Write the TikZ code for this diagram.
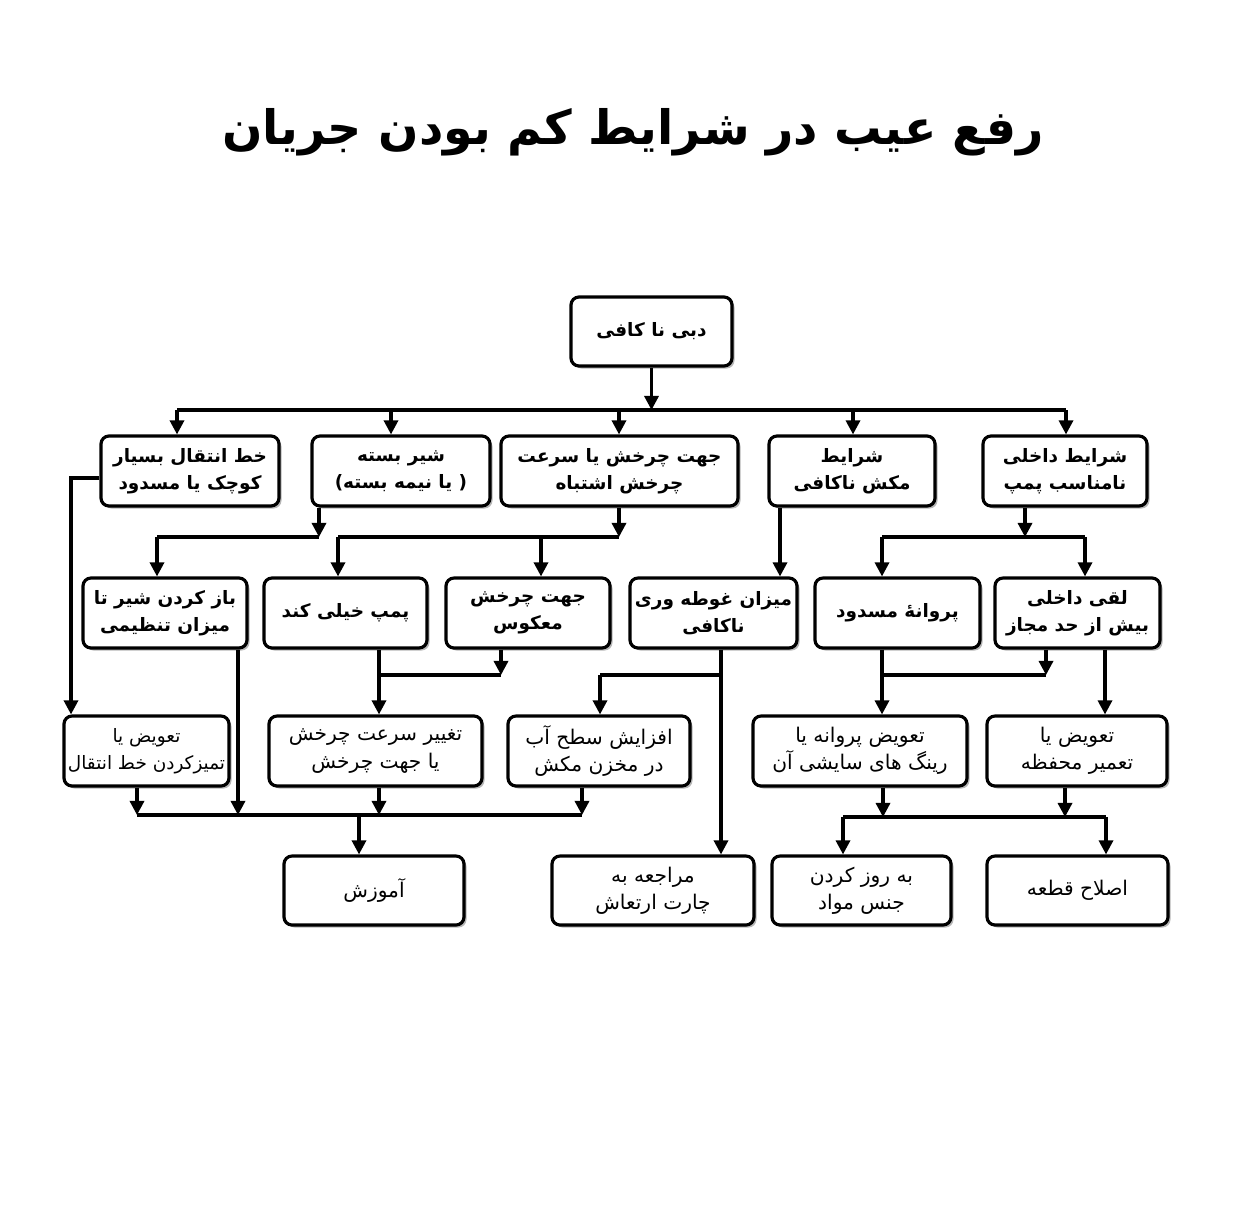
\documentclass[tikz,border=0pt]{standalone}
\usepackage{fontspec}
\newfontfamily\arabicfont[Script=Arabic]{DejaVu Sans}
\newfontfamily\latinfont{DejaVu Sans}
\TeXXeTstate=1
\usetikzlibrary{arrows.meta,shadows}
\newcommand\RL[1]{\beginR #1\endR}
\begin{document}
\begin{tikzpicture}[x=0.2mm,y=-0.2mm,
  sz/.style 2 args={minimum width=#1*0.2mm, minimum height=#2*0.2mm},
  box/.style={draw, line width=1.8pt, rounded corners=1.6mm, fill=white,
    drop shadow={shadow xshift=0.5mm, shadow yshift=-0.5mm, fill=black!40, opacity=0.7},
    align=center, inner sep=0pt,
    font=\arabicfont\bfseries\fontsize{10.5}{15.5}\selectfont},
  lbox/.style={box, font=\arabicfont\fontsize{11.5}{15.5}\selectfont},
  ln/.style={line width=1.8pt},
  arr/.style={ln, -{Triangle[width=8pt,length=8pt]}}]
\fill[white] (0,0) rectangle (1240,1228);
\useasboundingbox (0,0) rectangle (1240,1228);

\node (title) at (633,132) {\arabicfont\bfseries\fontsize{27}{32}\selectfont\RL{رفع عیب در شرایط کم بودن جریان}};

\node[box, sz={161}{69}] (top) at (651.5,331.5) {\RL{دبی نا کافی}};

\node[box, sz={178}{70}] (A1) at (190,471) {\RL{خط انتقال بسیار}\\\RL{کوچک یا مسدود}};
\node[box, sz={178}{70}] (A2) at (401,471) {\RL{شیر بسته}\\{\latinfont\bfseries(}\RL{یا نیمه بسته}~{\latinfont\bfseries)}};
\node[box, sz={237}{70}] (A3) at (619.5,471) {\RL{جهت چرخش یا سرعت}\\\RL{چرخش اشتباه}};
\node[box, sz={166}{70}] (A4) at (852,471) {\RL{شرایط}\\\RL{مکش ناکافی}};
\node[box, sz={164}{70}] (A5) at (1065,471) {\RL{شرایط داخلی}\\\RL{نامناسب پمپ}};

\node[box, sz={164}{70}] (B1) at (165,613) {\RL{باز کردن شیر تا}\\\RL{میزان تنظیمی}};
\node[box, sz={163}{70}] (B2) at (345.5,613) {\RL{پمپ خیلی کند}};
\node[box, sz={164}{70}] (B3) at (528,613) {\RL{جهت چرخش}\\\RL{معکوس}};
\node[box, sz={167}{70}] (B4) at (713.5,613) {\RL{میزان غوطه وری}\\\RL{ناکافی}};
\node[box, sz={165}{70}] (B5) at (897.5,613) {\RL{پروانهٔ مسدود}};
\node[box, sz={165}{70}] (B6) at (1077.5,613) {\RL{لقی داخلی}\\\RL{بیش از حد مجاز}};

\node[lbox, sz={165}{70}, font=\arabicfont\fontsize{10.5}{15.5}\selectfont] (C1) at (146.5,751) {\RL{تعویض یا}\\\RL{تمیزکردن خط انتقال}};
\node[lbox, sz={213}{70}] (C2) at (375.5,751) {\RL{تغییر سرعت چرخش}\\\RL{یا جهت چرخش}};
\node[lbox, sz={182}{70}] (C3) at (599,751) {\RL{افزایش سطح آب}\\\RL{در مخزن مکش}};
\node[lbox, sz={214}{70}] (C4) at (860,751) {\RL{تعویض پروانه یا}\\\RL{رینگ های سایشی آن}};
\node[lbox, sz={180}{70}] (C5) at (1077,751) {\RL{تعویض یا}\\\RL{تعمیر محفظه}};

\node[lbox, sz={180}{69}] (D1) at (374,890.5) {\RL{آموزش}};
\node[lbox, sz={202}{69}] (D2) at (653,890.5) {\RL{مراجعه به}\\\RL{چارت ارتعاش}};
\node[lbox, sz={179}{69}] (D3) at (861.5,890.5) {\RL{به روز کردن}\\\RL{جنس مواد}};
\node[lbox, sz={181}{69}] (D4) at (1077.5,890.5) {\RL{اصلاح قطعه}};

% top -> row 1
\coordinate (hA) at (0,410);
\coordinate (p1) at (177,410);
\coordinate (p2) at (391,410);
\coordinate (p3) at (619,410);
\coordinate (p4) at (853,410);
\coordinate (p5) at (1066,410);
\draw[arr] (top.south) -- (top.south |- hA);
\draw[ln] (p1) -- (p5);
\foreach \p/\n in {p1/A1,p2/A2,p3/A3,p4/A4,p5/A5}
  \draw[arr] (\p) -- (\p |- \n.north);

% row 1 -> row 2
\coordinate (q1) at (319,537);
\coordinate (q1a) at (157,537);
\draw[arr] (q1 |- A2.south) -- (q1);
\draw[ln] (q1a) -- (q1);
\draw[arr] (q1a) -- (q1a |- B1.north);
\coordinate (q2) at (619,537);
\coordinate (q2a) at (338,537);
\coordinate (q2b) at (541,537);
\draw[arr] (q2 |- A3.south) -- (q2);
\draw[ln] (q2a) -- (q2);
\draw[arr] (q2a) -- (q2a |- B2.north);
\draw[arr] (q2b) -- (q2b |- B3.north);
\coordinate (q3) at (780,0);
\draw[arr] (q3 |- A4.south) -- (q3 |- B4.north);
\coordinate (q4) at (1025,537);
\coordinate (q4a) at (882,537);
\coordinate (q4b) at (1085,537);
\draw[arr] (q4 |- A5.south) -- (q4);
\draw[ln] (q4a) -- (q4b);
\draw[arr] (q4a) -- (q4a |- B5.north);
\draw[arr] (q4b) -- (q4b |- B6.north);
\coordinate (r1) at (71,478);
\draw[arr] (A1.west |- r1) -- (r1) -- (r1 |- C1.north);

% row 2 -> row 3
\coordinate (s1) at (238,815);
\draw[arr] (s1 |- B1.south) -- (s1);
\coordinate (s2) at (379,675);
\coordinate (s3) at (501,675);
\draw[ln] (s2 |- B2.south) -- (s2);
\draw[arr] (s3 |- B3.south) -- (s3);
\draw[ln] (s2) -- (s3);
\draw[arr] (s2) -- (s2 |- C2.north);
\coordinate (s4) at (721,675);
\coordinate (s5) at (600,675);
\draw[arr] (s4 |- B4.south) -- (s4 |- D2.north);
\draw[ln] (s4) -- (s5);
\draw[arr] (s5) -- (s5 |- C3.north);
\coordinate (s6) at (882,675);
\coordinate (s7) at (1046,675);
\draw[arr] (s6 |- B5.south) -- (s6 |- C4.north);
\draw[arr] (s7 |- B6.south) -- (s7);
\draw[ln] (s6) -- (s7);
\coordinate (s8) at (1105,0);
\draw[arr] (s8 |- B6.south) -- (s8 |- C5.north);

% row 3 -> row 4
\coordinate (t1) at (137,815);
\coordinate (t2) at (379,815);
\coordinate (t3) at (582,815);
\coordinate (t4) at (359,815);
\draw[arr] (t1 |- C1.south) -- (t1);
\draw[arr] (t2 |- C2.south) -- (t2);
\draw[arr] (t3 |- C3.south) -- (t3);
\draw[ln] (t1) -- (t3);
\draw[arr] (t4) -- (t4 |- D1.north);
\coordinate (u1) at (883,817);
\coordinate (u2) at (1065,817);
\coordinate (u3) at (843,817);
\coordinate (u4) at (1106,817);
\draw[arr] (u1 |- C4.south) -- (u1);
\draw[arr] (u2 |- C5.south) -- (u2);
\draw[ln] (u3) -- (u4);
\draw[arr] (u3) -- (u3 |- D3.north);
\draw[arr] (u4) -- (u4 |- D4.north);
\end{tikzpicture}
\end{document}
